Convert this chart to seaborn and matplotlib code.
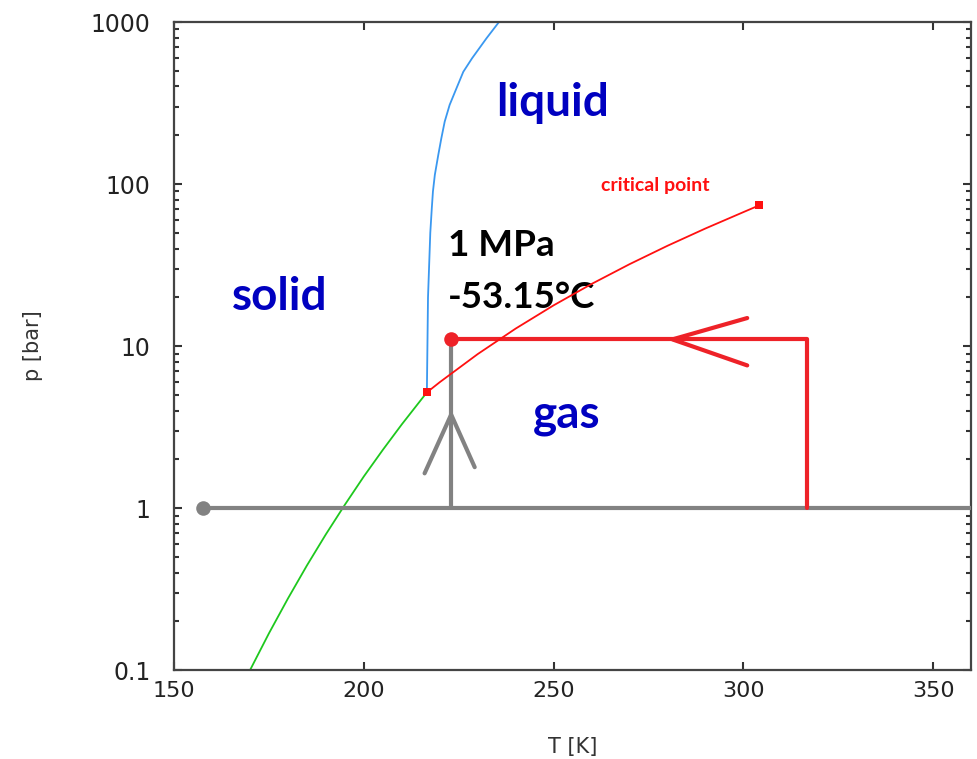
import numpy as np
import pandas as pd
import seaborn as sb
from matplotlib import pyplot as plt
from matplotlib.ticker import FixedLocator, LogLocator, NullFormatter

# phase boundaries (T in K, p in bar)
subT = [170.0, 175.0, 180.0, 185.0, 190.0, 195.0, 200.0, 205.0, 210.0, 216.6]
subP = [0.10, 0.169, 0.277, 0.443, 0.69, 1.05, 1.57, 2.29, 3.29, 5.18]

meltT = [216.6, 216.9, 217.5, 217.9, 218.2, 218.7, 219.6, 220.4, 221.3, 222.6,
         224.4, 226.2, 228.5, 232.3, 235.6]
meltP = [5.18, 20.0, 50.0, 71.0, 90.0, 114.0, 151.0, 191.0, 243.0, 308.0,
         390.0, 493.0, 597.0, 793.0, 1000.0]

vapT = [216.6, 220.0, 230.0, 240.0, 250.0, 260.0, 270.0, 280.0, 290.0, 300.0, 304.1]
vapP = [5.18, 5.99, 8.93, 12.83, 17.85, 24.19, 32.03, 41.61, 53.20, 67.13, 73.8]

triple = (216.6, 5.18)
critical = (304.1, 73.8)

# process path
atmT = [157.6, 362.0]
atmP = [1.0, 1.0]
upT = [223.0, 223.0]
upP = [1.0, 11.0]
pathT = [223.0, 316.8, 316.8]
pathP = [11.0, 11.0, 1.0]
grayHeadT = [216.0, 223.0, 229.2]
grayHeadP = [1.64, 3.78, 1.79]
redHeadT = [301.0, 281.3, 301.0]
redHeadP = [14.9, 11.0, 7.6]

xTicks = [150, 200, 250, 300, 350]
yTicks = [0.1, 1, 10, 100, 1000]
yLabels = ['0.1', '1', '10', '100', '1000']

sb.set_style("ticks")
plt.rcParams['font.family'] = ['DejaVu Sans']

fig = plt.figure(figsize=(9.78, 7.59), dpi=100)
ax = fig.add_axes([0.178, 0.117, 0.815, 0.854])


def line(x, y, color, lw, z=2):
    df = pd.DataFrame({'T': x, 'p': y})
    sb.lineplot(data=df, x='T', y='p', sort=False, estimator=None,
                color=color, linewidth=lw, ax=ax, zorder=z)


line(subT, subP, '#1ec81e', 1.3)
line(meltT, meltP, '#3a98f0', 1.3)
line(vapT, vapP, '#ff1010', 1.3, 6)

line(atmT, atmP, '#828282', 3.0, 3)
line(upT, upP, '#828282', 3.0, 3)
line(grayHeadT, grayHeadP, '#828282', 3.0, 3)
line(pathT, pathP, '#ee2228', 3.0, 4)
line(redHeadT, redHeadP, '#ee2228', 3.0, 4)

sb.scatterplot(x=[atmT[0]], y=[1.0], color='#828282', s=110, linewidth=0, ax=ax, zorder=5)
sb.scatterplot(x=[upT[0]], y=[11.0], color='#ee2228', s=110, linewidth=0, ax=ax, zorder=5)
sb.scatterplot(x=[triple[0], critical[0]], y=[triple[1], critical[1]], color='#ff1010',
               marker='s', s=30, linewidth=0, ax=ax, zorder=7)

ax.set_yscale('log')
ax.set_xlim(150, 360)
ax.set_ylim(0.1, 1000)
ax.xaxis.set_major_locator(FixedLocator(xTicks))
ax.yaxis.set_major_locator(FixedLocator(yTicks))
ax.set_yticklabels(yLabels)
ax.yaxis.set_minor_locator(LogLocator(base=10, subs=np.arange(2, 10)))
ax.yaxis.set_minor_formatter(NullFormatter())
ax.tick_params(which='both', direction='in', top=True, right=True, colors='#333333',
               labelcolor='#222222', labelsize=16, width=1.5)
ax.tick_params(which='major', length=6, pad=8)
ax.tick_params(which='minor', length=3.5)
ax.tick_params(axis='y', which='major', pad=17, labelsize=17)
for s in ax.spines.values():
    s.set_linewidth(1.6)
    s.set_color('#444444')

ax.set_xlabel('T [K]', fontsize=15, color='#333333', labelpad=26)
ax.set_ylabel('p [bar]', fontsize=15, color='#333333', labelpad=34)

bold = dict(fontweight='bold', family=['Lato', 'DejaVu Sans'])
ax.text(249.7, 316, 'liquid', color='#0000c0', fontsize=33, ha='center', va='center', **bold)
ax.text(177.9, 20, 'solid', color='#0000c0', fontsize=33, ha='center', va='center', **bold)
ax.text(253.4, 3.75, 'gas', color='#0000c0', fontsize=33, ha='center', va='center', **bold)
ax.text(222.1, 42, '1 MPa', color='black', fontsize=26.5, ha='left', va='center', **bold)
ax.text(222.1, 20, '-53.15°C', color='black', fontsize=26.5, ha='left', va='center', zorder=1, **bold)
ax.text(276.8, 98, 'critical point', color='#ff1010', fontsize=14, ha='center', va='center', **bold)

plt.savefig('out.png', dpi=100)
